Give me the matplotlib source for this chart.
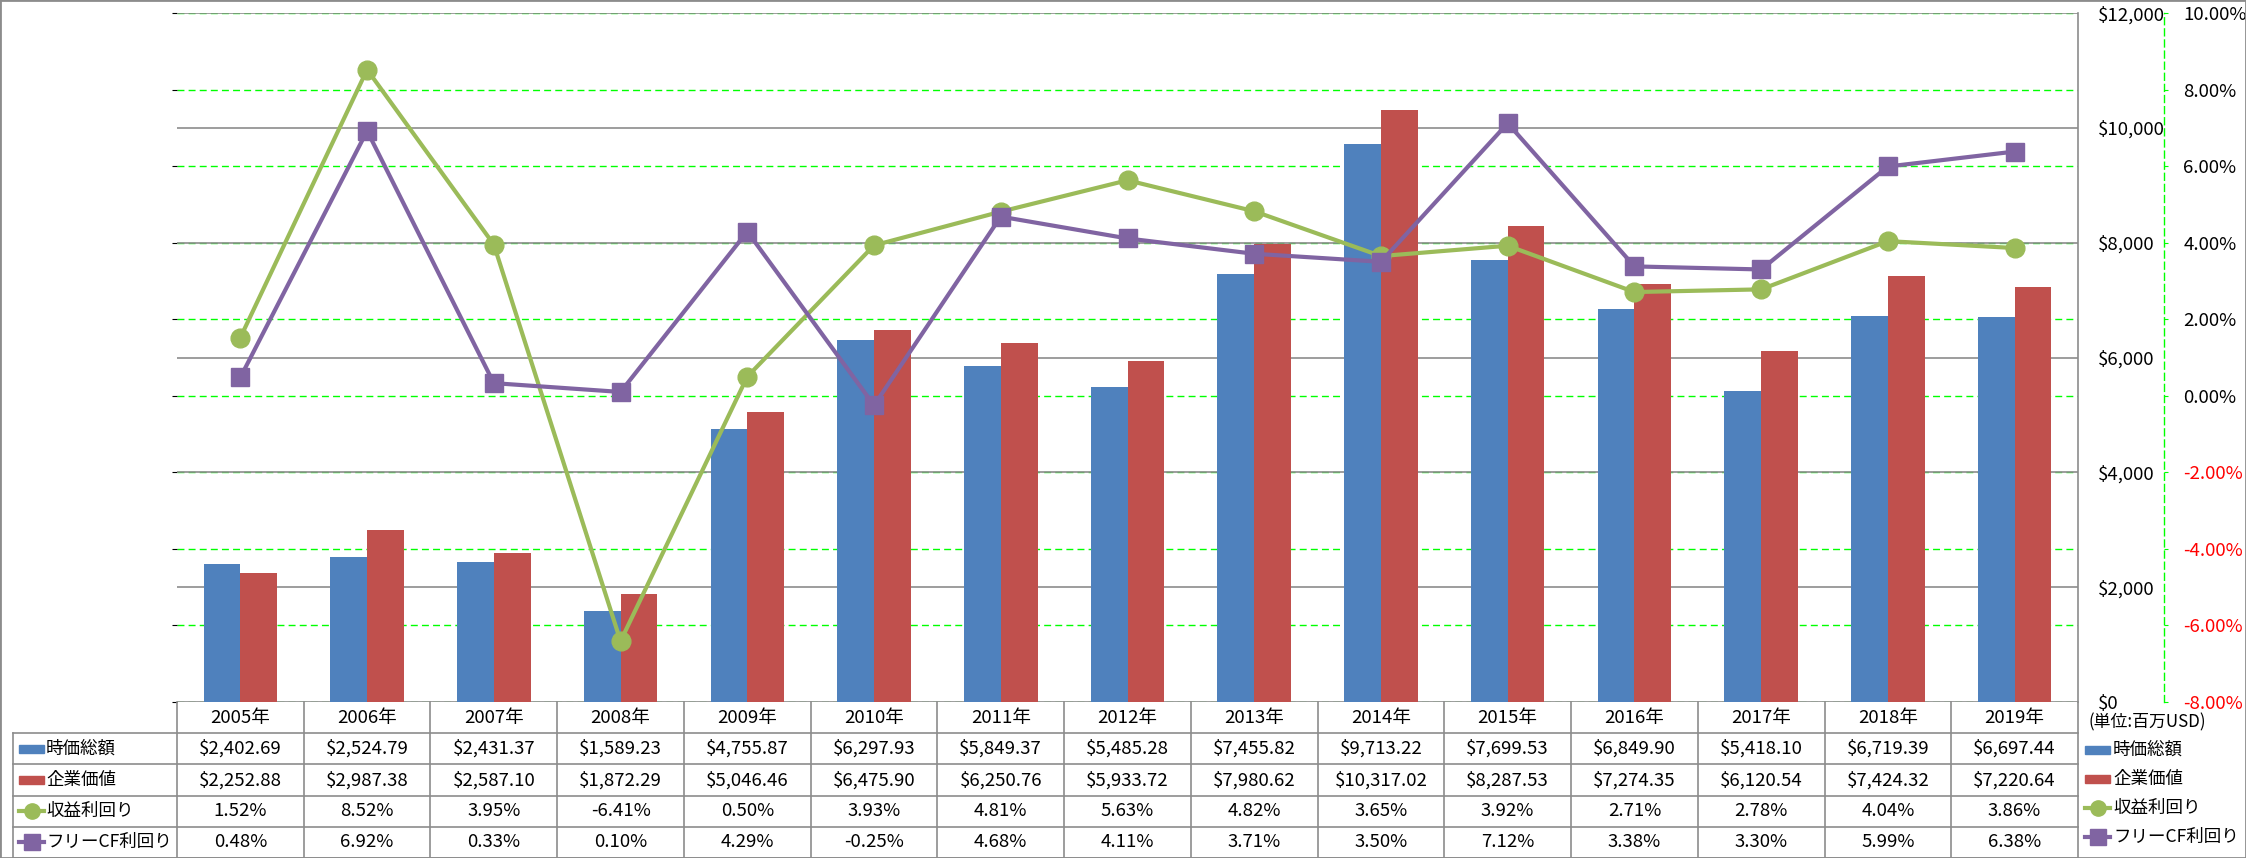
import numpy as np
import matplotlib.pyplot as plt
from matplotlib.patches import Rectangle
from matplotlib.ticker import FuncFormatter

plt.rcParams['font.family'] = ['Noto Sans CJK JP', 'DejaVu Sans']

# data (値は表から)
years = ['2005年', '2006年', '2007年', '2008年', '2009年', '2010年', '2011年', '2012年',
         '2013年', '2014年', '2015年', '2016年', '2017年', '2018年', '2019年']
mcap = [2402.69, 2524.79, 2431.37, 1589.23, 4755.87, 6297.93, 5849.37, 5485.28,
        7455.82, 9713.22, 7699.53, 6849.90, 5418.10, 6719.39, 6697.44]
ev = [2252.88, 2987.38, 2587.10, 1872.29, 5046.46, 6475.90, 6250.76, 5933.72,
      7980.62, 10317.02, 8287.53, 7274.35, 6120.54, 7424.32, 7220.64]
earn_yield = [1.52, 8.52, 3.95, -6.41, 0.50, 3.93, 4.81, 5.63, 4.82, 3.65, 3.92, 2.71, 2.78, 4.04, 3.86]
fcf_yield = [0.48, 6.92, 0.33, 0.10, 4.29, -0.25, 4.68, 4.11, 3.71, 3.50, 7.12, 3.38, 3.30, 5.99, 6.38]
names = ['時価総額', '企業価値', '収益利回り', 'フリーCF利回り']
unit_note = '(単位:百万USD)'

BLUE, RED, GREEN, PURPLE = '#4F81BD', '#C0504D', '#9BBB59', '#8064A2'
GRAY = '#8C8C8C'
LIME = '#00FF00'
FS = 13.4
FS_LAB = 12.6   # row / legend labels

W, H = 2246, 858
L, R, T, B = 177, 2078, 13, 702      # plot area in px
fig = plt.figure(figsize=(W / 100, H / 100), dpi=100)
rect = [L / W, 1 - B / H, (R - L) / W, (B - T) / H]

x = np.arange(len(years))

# green dashed % grid (bottom layer)
axg = fig.add_axes(rect)
axg.set_ylim(-8, 10)
axg.set_xlim(-0.5, 14.5)
axg.set_yticks(np.arange(-8, 11, 2))
axg.yaxis.grid(True, color=LIME, linestyle=(0, (5, 3)), linewidth=1)
axg.tick_params(left=False, bottom=False, labelleft=False, labelbottom=False)
for s in axg.spines.values():
    s.set_visible(False)

# bars on money axis
ax = axg.twinx()
ax.patch.set_visible(False)
ax.set_ylim(0, 12000)
ax.set_yticks(np.arange(0, 12001, 2000))
ax.yaxis.grid(True, color=GRAY, linewidth=1.2)
ax.set_axisbelow(True)
w = 0.29
ax.bar(x - w / 2, mcap, w, color=BLUE, zorder=3)
ax.bar(x + w / 2, ev, w, color=RED, zorder=3)
ax.yaxis.set_major_formatter(FuncFormatter(lambda v, p: f'${v:,.0f}'))
ax.tick_params(axis='y', length=0, pad=14, labelsize=FS)
for k in ['left', 'top', 'bottom']:
    ax.spines[k].set_visible(False)
ax.spines['right'].set_color(GRAY)
ax.spines['right'].set_linewidth(1.2)

# lines on % axis
axl = axg.twinx()
axl.patch.set_visible(False)
axl.set_ylim(-8, 10)
axl.set_yticks(np.arange(-8, 11, 2))
axl.plot(x, earn_yield, color=GREEN, lw=3, marker='o', ms=13.5, zorder=4)
axl.plot(x, fcf_yield, color=PURPLE, lw=3, marker='s', ms=12.5, zorder=5)
axl.yaxis.set_major_formatter(FuncFormatter(lambda v, p: f'{v:.2f}%'))
axl.tick_params(axis='y', direction='out', length=3, color=LIME, pad=11, labelsize=FS)
for k in ['left', 'top', 'bottom']:
    axl.spines[k].set_visible(False)
axl.spines['right'].set_position(('outward', 86 * 0.72))
axl.spines['right'].set_color(LIME)
axl.spines['right'].set_linestyle((0, (5, 3)))
axl.spines['right'].set_linewidth(1)
for lab, v in zip(axl.get_yticklabels(), np.arange(-8, 11, 2)):
    lab.set_color('#FF0000' if v < 0 else 'black')

# data table below the plot
colw = (R - L) / 15
x_left = -0.5 - (L - 13) / colw
rowh = (H - B) / 5
tab = fig.add_axes([13 / W, 0, (R - 13) / W, (H - B) / H])
tab.set_xlim(x_left, 14.5)
tab.set_ylim(5, 0)
tab.axis('off')


def px2x(px):
    return x_left + (px - 13) / colw


def px2y(py):
    return (py - B) / rowh


for k in range(16):
    tab.plot([k - 0.5, k - 0.5], [0, 5], color=GRAY, lw=1.2, clip_on=False)
for r in range(1, 6):
    tab.plot([x_left, 14.5], [r, r], color=GRAY, lw=1.2, clip_on=False)
tab.plot([x_left, x_left], [1, 5], color=GRAY, lw=1.2, clip_on=False)

rows = [
    [f'${v:,.2f}' for v in mcap],
    [f'${v:,.2f}' for v in ev],
    [f'{v:.2f}%' for v in earn_yield],
    [f'{v:.2f}%' for v in fcf_yield],
]
for i, y in enumerate(years):
    tab.text(i, 0.5, y, ha='center', va='center', fontsize=FS)
for r, vals in enumerate(rows):
    for i, s in enumerate(vals):
        tab.text(i, r + 1.5, s, ha='center', va='center', fontsize=FS)

styles = [('bar', BLUE), ('bar', RED), ('o', GREEN), ('s', PURPLE)]


def draw_key(px0, px1, yc, kind, color):
    if kind == 'bar':
        tab.add_patch(Rectangle((px2x(px0), yc - 4 / rowh), px2x(px1) - px2x(px0), 8 / rowh,
                                color=color, clip_on=False))
    else:
        tab.plot([px2x(px0), px2x(px1)], [yc, yc], color=color, lw=3, clip_on=False)
        tab.plot([px2x((px0 + px1) / 2)], [yc], marker=kind, ms=11, color=color, clip_on=False)


# row headers (left)
for r, (name, (kind, color)) in enumerate(zip(names, styles)):
    yc = r + 1.5
    draw_key(19, 44, yc, kind, color)
    tab.text(px2x(46), yc, name, ha='left', va='center', fontsize=FS_LAB)

# legend (right)
tab.text(px2x(2088), px2y(722), unit_note, ha='left', va='center', fontsize=FS - 1.2, clip_on=False)
for r, (name, (kind, color)) in enumerate(zip(names, styles)):
    yc = px2y(750 + r * 29)
    draw_key(2085, 2110, yc, kind, color)
    tab.text(px2x(2113), yc, name, ha='left', va='center', fontsize=FS_LAB, clip_on=False)

# outer border
fig.patches.append(Rectangle((0, 0), 1, 1, transform=fig.transFigure, fill=False,
                             edgecolor=GRAY, lw=2))

fig.savefig('out.png', dpi=100)
